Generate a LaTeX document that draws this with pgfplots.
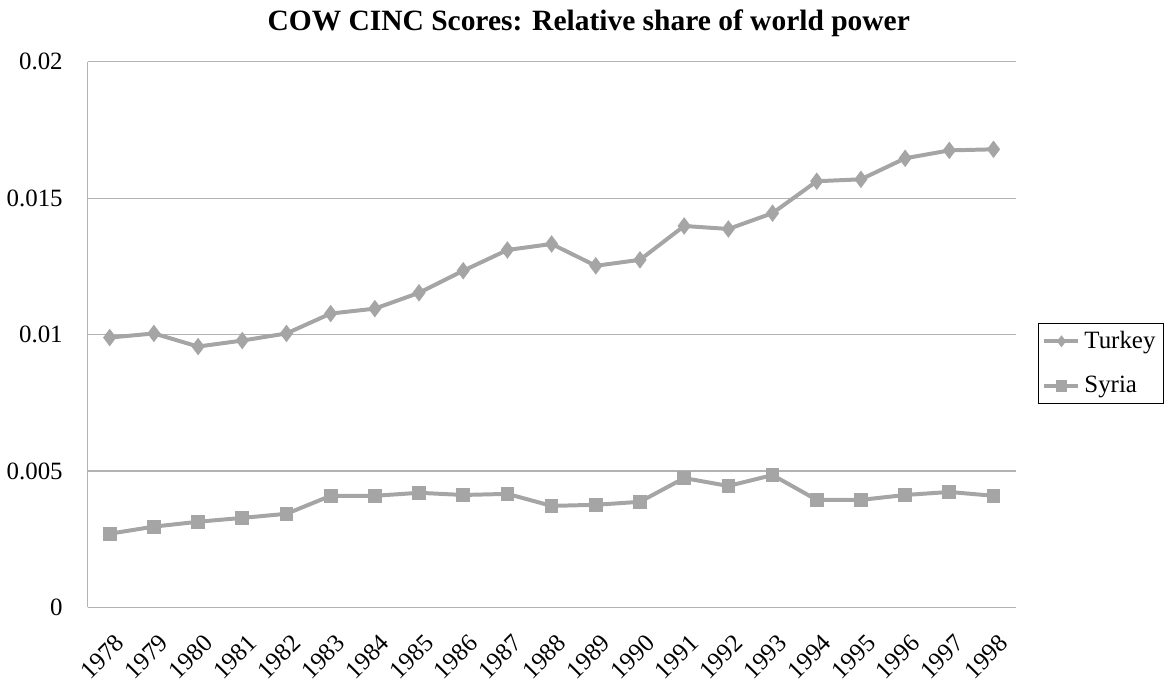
\documentclass[border=0pt]{standalone}
\usepackage{pgfplots}
\pgfplotsset{compat=1.18}
\usepackage{fontspec}
\setmainfont{Liberation Serif}
\definecolor{linegray}{RGB}{165,165,165}
\definecolor{gridgray}{RGB}{178,178,178}
\begin{document}
\begin{tikzpicture}
\begin{axis}[
  scale only axis,
  width=466pt, height=274pt,
  xmin=-0.5, xmax=20.5,
  ymin=0, ymax=0.02,
  axis x line=bottom, axis y line=left,
  axis line style={gridgray, -},
  xtick={0,...,20},
  xticklabels={1978,1979,1980,1981,1982,1983,1984,1985,1986,1987,1988,1989,1990,1991,1992,1993,1994,1995,1996,1997,1998},
  ytick={0,0.005,0.01,0.015,0.02},
  yticklabels={0,0.005,0.01,0.015,0.02},
  scaled y ticks=false,
  major tick length=0pt,
  ymajorgrids, grid style={gridgray, line width=0.6pt},
  tick label style={font=\fontsize{12.5}{14}\selectfont},
  yticklabel style={xshift=-9pt},
  xticklabel style={rotate=45, anchor=north east, xshift=-7pt, yshift=-10pt, inner sep=0.5pt},
  title={\rule{0pt}{15.5pt}\textbf{COW CINC Scores: Relative share of world power}},
  title style={font=\fontsize{14.8}{16}\selectfont, at={(0.54,1)}, anchor=base, yshift=9.5pt, inner sep=0pt},
  legend style={at={(1.024,0.447)}, anchor=west, draw=black, line width=0.6pt,
    font=\fontsize{12.5}{14}\selectfont, inner sep=2pt, row sep=8.5pt,
    legend cell align=left},
  legend image code/.code={
    \draw[#1, line width=2pt] (0cm,0cm) -- (0.6cm,0cm);
    \draw[#1, mark repeat=2, mark phase=2, mark size=2.6pt] plot coordinates {(0cm,0cm) (0.3cm,0cm) (0.6cm,0cm)};
  },
]
\addplot[linegray, line width=2pt, mark=diamond*, mark size=4pt, mark options={fill=linegray, draw=linegray, line width=0.5pt}] coordinates {
(0,0.00989) (1,0.01004) (2,0.00956) (3,0.00978) (4,0.01004) (5,0.01077) (6,0.01095)
(7,0.01153) (8,0.01234) (9,0.01310) (10,0.01332) (11,0.01252) (12,0.01274) (13,0.01398)
(14,0.01387) (15,0.01445) (16,0.01562) (17,0.01569) (18,0.01646) (19,0.01675) (20,0.01679)};
\addlegendentry{Turkey}
\addplot[linegray, line width=2pt, mark=square*, mark size=3.2pt, mark options={fill=linegray, draw=linegray, line width=0.5pt}] coordinates {
(0,0.00270) (1,0.00296) (2,0.00314) (3,0.00328) (4,0.00343) (5,0.00409) (6,0.00409)
(7,0.00420) (8,0.00412) (9,0.00416) (10,0.00372) (11,0.00376) (12,0.00387) (13,0.00474)
(14,0.00445) (15,0.00485) (16,0.00394) (17,0.00394) (18,0.00412) (19,0.00423) (20,0.00409)};
\addlegendentry{Syria}
\end{axis}
\end{tikzpicture}
\end{document}
